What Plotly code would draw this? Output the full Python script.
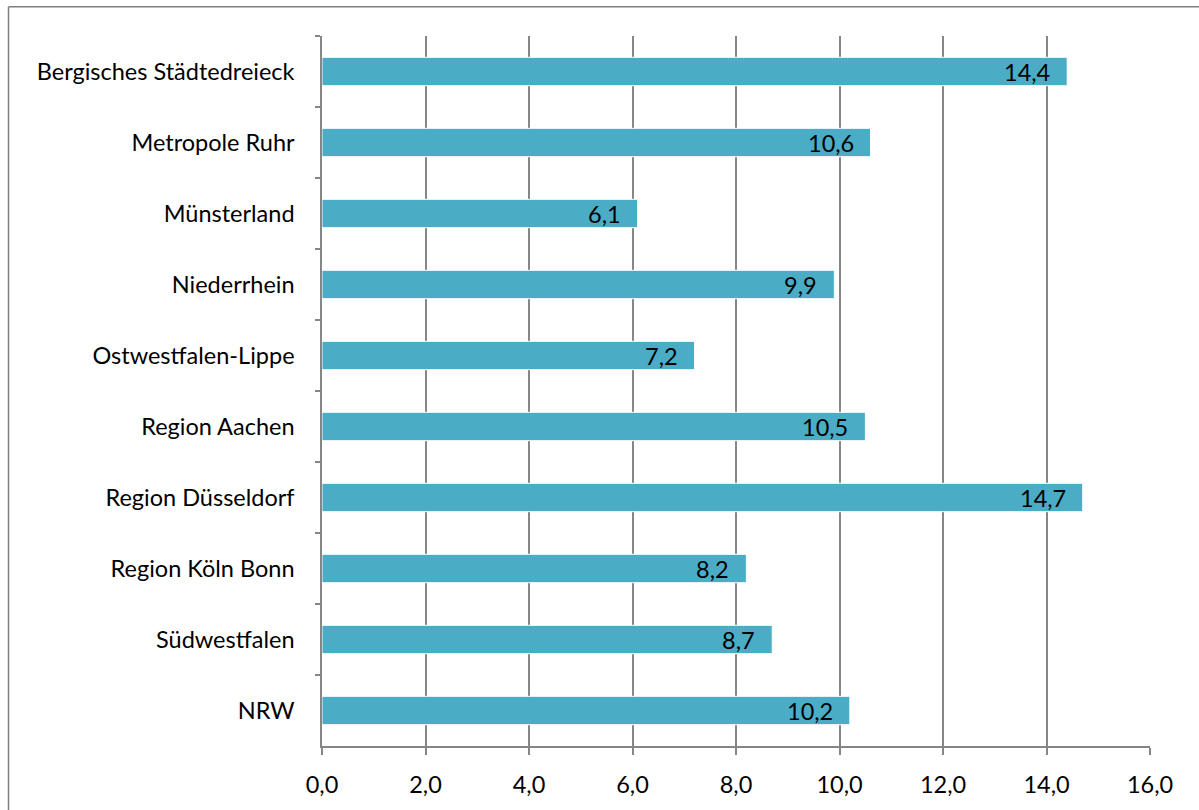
import plotly.graph_objects as go

# Regions of NRW and their values
regions = [
    "Bergisches Städtedreieck",
    "Metropole Ruhr",
    "Münsterland",
    "Niederrhein",
    "Ostwestfalen-Lippe",
    "Region Aachen",
    "Region Düsseldorf",
    "Region Köln Bonn",
    "Südwestfalen",
    "NRW",
]
values = [14.4, 10.6, 6.1, 9.9, 7.2, 10.5, 14.7, 8.2, 8.7, 10.2]
x_ticks = [0, 2, 4, 6, 8, 10, 12, 14, 16]

FONT = "Lato"
FSIZE = 23.5
GRID = "#868686"
BAR = "#4BACC6"

W, H = 1199, 810
L, R, T, B = 322, 49, 36, 60
plot_w = W - L - R
plot_h = H - T - B

fig = go.Figure(
    go.Bar(
        y=regions,
        x=values,
        orientation="h",
        marker=dict(color=BAR, line=dict(color="white", width=1)),
        hoverinfo="x+y",
    )
)

# value labels, right-aligned just inside the end of each bar
for name, v in zip(regions, values):
    fig.add_annotation(
        x=v, y=name, xref="x", yref="y",
        text=f"{v:.1f}".replace(".", ","),
        xanchor="right", yanchor="middle",
        xshift=-15, yshift=0,
        showarrow=False,
        font=dict(family=FONT, size=FSIZE, color="black"),
    )

# outer frame: left and top edges of the chart area
px_left, px_top = 8.5, 6.5
fx = (px_left - L) / plot_w
fy = 1 + (T - px_top) / plot_h
fig.add_shape(type="line", xref="paper", yref="paper", x0=fx, x1=fx, y0=-2, y1=fy,
              line=dict(color="#7f7f7f", width=1.5))
fig.add_shape(type="line", xref="paper", yref="paper", x0=fx, x1=(W + 5 - L) / plot_w, y0=fy, y1=fy,
              line=dict(color="#7f7f7f", width=1.5))

fig.update_layout(
    width=W,
    height=H,
    margin=dict(l=L, r=R, t=T, b=B),
    paper_bgcolor="white",
    plot_bgcolor="white",
    separators=",.",
    bargap=0.6,
    showlegend=False,
    font=dict(family=FONT, size=FSIZE, color="black"),
)

fig.update_xaxes(
    range=[0, 16],
    tickvals=x_ticks,
    tickformat=".1f",
    showgrid=True,
    gridcolor=GRID,
    gridwidth=1.5,
    showline=True,
    linecolor=GRID,
    linewidth=1.5,
    ticks="outside",
    ticklen=7,
    tickcolor=GRID,
    tickwidth=1.5,
    ticklabelstandoff=10,
    zeroline=False,
    tickfont=dict(family=FONT, size=FSIZE, color="black"),
)
fig.update_yaxes(
    autorange="reversed",
    showline=True,
    linecolor=GRID,
    linewidth=1.5,
    ticks="outside",
    tickson="boundaries",
    ticklen=5,
    tickcolor=GRID,
    tickwidth=1.5,
    ticklabelstandoff=21,
    showgrid=False,
    tickfont=dict(family=FONT, size=FSIZE, color="black"),
)

fig.write_html("out.html")
